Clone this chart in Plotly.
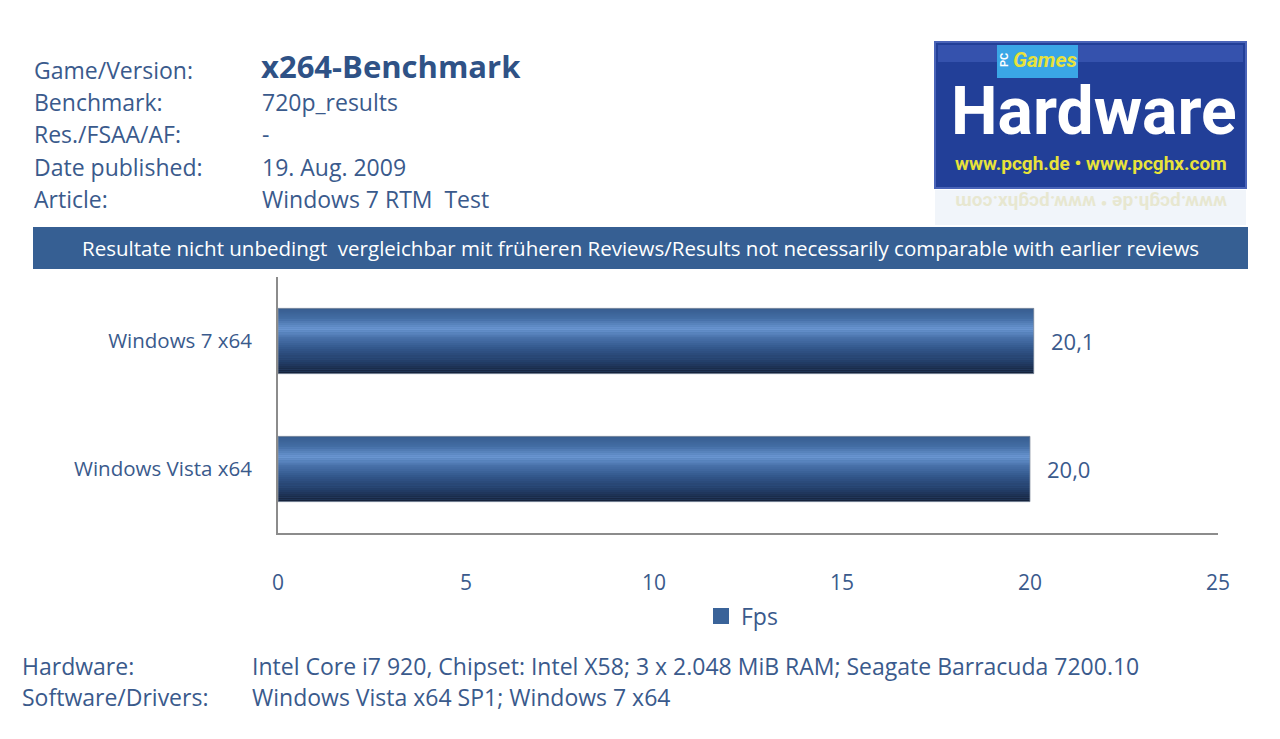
import plotly.graph_objects as go

# ---------------- data ----------------
categories = ["Windows Vista x64", "Windows 7 x64"]   # bottom -> top
fps = [20.0, 20.1]
x_ticks = [0, 5, 10, 15, 20, 25]
series_name = "Fps"

info_labels = ["Game/Version:", "Benchmark:", "Res./FSAA/AF:", "Date published:", "Article:"]
info_values = ["x264-Benchmark", "720p_results", "-", "19. Aug. 2009", "Windows 7 RTM  Test"]
footer_labels = ["Hardware:", "Software/Drivers:"]
footer_values = ["Intel Core i7 920, Chipset: Intel X58; 3 x 2.048 MiB RAM; Seagate Barracuda 7200.10",
                 "Windows Vista x64 SP1; Windows 7 x64"]
banner_text = "Resultate nicht unbedingt  vergleichbar mit früheren Reviews/Results not necessarily comparable with earlier reviews"

# ---------------- style ----------------
W, H = 1280, 739
FONT = "Open Sans"
LOGO_FONT = "Roboto, Arial, sans-serif"
TXT = "#3a5a8c"
BAR_COLOR = "#3a6399"


def px(x):
    return x / W


def py(y):
    return 1 - y / H


BAR_W = 0.51
N_STRIPES = 32
stops = [(0.0, (55, 92, 142)), (0.14, (66, 108, 162)), (0.32, (108, 152, 212)),
         (0.45, (72, 114, 170)), (0.62, (50, 86, 138)), (0.82, (34, 60, 102)), (1.0, (20, 32, 55))]


def grad(t):
    for (a, ca), (b, cb) in zip(stops[:-1], stops[1:]):
        if a <= t <= b:
            f = (t - a) / (b - a)
            c = [round(ca[k] + (cb[k] - ca[k]) * f) for k in range(3)]
            return f"rgb({c[0]},{c[1]},{c[2]})"
    return "rgb(20,32,55)"


fig = go.Figure()

# base bar
fig.add_trace(go.Bar(y=categories, x=fps, orientation="h", width=BAR_W, name=series_name,
                     marker=dict(color=BAR_COLOR, line=dict(width=0)), hoverinfo="x+y",
                     showlegend=False))

dw = BAR_W / N_STRIPES
for i in range(N_STRIPES):
    t = (i + 0.5) / N_STRIPES
    fig.add_trace(go.Bar(y=categories, x=fps, orientation="h",
                         offset=BAR_W / 2 - (i + 1) * dw, width=dw * 1.08,
                         marker=dict(color=grad(t), line=dict(width=0)),
                         showlegend=False, hoverinfo="skip"))

# outline
fig.add_trace(go.Bar(y=categories, x=fps, orientation="h", width=BAR_W,
                     marker=dict(color="rgba(0,0,0,0)", line=dict(color="rgba(140,150,165,0.8)", width=1)),
                     showlegend=False, hoverinfo="skip"))

# legend entry for the series
fig.add_trace(go.Scatter(x=[None], y=[None], mode="markers", name=series_name,
                         marker=dict(symbol="square", size=18, color=BAR_COLOR), hoverinfo="skip"))

annotations = []
for c, v in zip(categories, fps):
    annotations.append(dict(x=v, y=c, xref="x", yref="y", text=f"{v:.1f}".replace(".", ","),
                            showarrow=False, xanchor="left", xshift=15,
                            font=dict(family=FONT, size=22, color=TXT)))

# info block
row_y = [70, 102, 134, 167, 199]
for k, (lab, val, y) in enumerate(zip(info_labels, info_values, row_y)):
    annotations.append(dict(x=px(32), y=py(y), xref="paper", yref="paper", text=lab, showarrow=False,
                            xanchor="left", yanchor="middle", font=dict(family=FONT, size=23, color=TXT)))
    if k == 0:
        annotations.append(dict(x=px(259), y=py(y - 4), xref="paper", yref="paper", text=f"<b>{val}</b>",
                                showarrow=False, xanchor="left", yanchor="middle",
                                font=dict(family=FONT, size=31, color="#2f5286")))
    else:
        annotations.append(dict(x=px(260), y=py(y), xref="paper", yref="paper", text=val, showarrow=False,
                                xanchor="left", yanchor="middle", font=dict(family=FONT, size=23, color=TXT)))

# footer
for lab, val, y in zip(footer_labels, footer_values, [666, 697]):
    annotations.append(dict(x=px(20), y=py(y), xref="paper", yref="paper", text=lab, showarrow=False,
                            xanchor="left", yanchor="middle", font=dict(family=FONT, size=23, color=TXT)))
    annotations.append(dict(x=px(250), y=py(y), xref="paper", yref="paper", text=val, showarrow=False,
                            xanchor="left", yanchor="middle", font=dict(family=FONT, size=23, color=TXT)))

# banner
shapes = [dict(type="rect", xref="paper", yref="paper", x0=px(33), x1=px(1248), y0=py(269), y1=py(227),
               fillcolor="#365f93", line=dict(width=0), layer="below")]
annotations.append(dict(x=px(640), y=py(248), xref="paper", yref="paper", text=banner_text, showarrow=False,
                        xanchor="center", yanchor="middle", font=dict(family=FONT, size=20.5, color="white")))

# logo
shapes += [
    dict(type="rect", xref="paper", yref="paper", x0=px(935), x1=px(1246), y0=py(188), y1=py(42),
         fillcolor="#223f98", line=dict(color="#4a64b8", width=2), layer="above"),
    dict(type="rect", xref="paper", yref="paper", x0=px(938), x1=px(1243), y0=py(62), y1=py(45),
         fillcolor="#3552ad", line=dict(width=0), layer="above"),
    dict(type="rect", xref="paper", yref="paper", x0=px(997), x1=px(1078), y0=py(78), y1=py(45),
         fillcolor="#3aa6e6", line=dict(width=0), layer="above"),
    dict(type="rect", xref="paper", yref="paper", x0=px(935), x1=px(1246), y0=py(225), y1=py(190),
         fillcolor="rgba(225,232,245,0.45)", line=dict(width=0), layer="below"),
]
annotations += [
    dict(x=px(1094), y=py(112), xref="paper", yref="paper", text="<b>Hardware</b>", showarrow=False,
         xanchor="center", yanchor="middle",
         font=dict(family=LOGO_FONT, size=66, color="white")),
    dict(x=px(1045), y=py(60), xref="paper", yref="paper", text="<b><i>Games</i></b>", showarrow=False,
         xanchor="center", yanchor="middle", font=dict(family=LOGO_FONT, size=21, color="#e8e23a")),
    dict(x=px(1004), y=py(60), xref="paper", yref="paper", text="<b>PC</b>", showarrow=False, textangle=-90,
         xanchor="center", yanchor="middle", font=dict(family=LOGO_FONT, size=11, color="white")),
    dict(x=px(1091), y=py(163), xref="paper", yref="paper", text="<b>www.pcgh.de • www.pcghx.com</b>",
         showarrow=False, xanchor="center", yanchor="middle",
         font=dict(family=LOGO_FONT, size=19, color="#e8e23a")),
    dict(x=px(1091), y=py(203), xref="paper", yref="paper", text="<b>www.pcgh.de • www.pcghx.com</b>",
         showarrow=False, xanchor="center", yanchor="middle", textangle=180, opacity=0.22,
         font=dict(family=LOGO_FONT, size=19, color="#c8b840")),
]

fig.update_layout(
    width=W, height=H, barmode="overlay", bargap=0.49,
    paper_bgcolor="white", plot_bgcolor="white",
    margin=dict(l=0, r=0, t=0, b=0),
    font=dict(family=FONT, color=TXT),
    shapes=shapes, annotations=annotations,
    showlegend=True,
    legend=dict(orientation="h", x=px(742), y=py(616), xanchor="center", yanchor="middle",
                font=dict(family=FONT, size=23, color=TXT), bgcolor="rgba(0,0,0,0)"),
    xaxis=dict(domain=[px(278), px(1218)], range=[0, 25], tickvals=x_ticks,
               ticktext=[str(t) for t in x_ticks], showgrid=False, zeroline=False,
               showline=True, linecolor="#8c8c8c", linewidth=2, ticks="",
               tickfont=dict(family=FONT, size=21, color=TXT), ticklabelstandoff=30, automargin=False),
    yaxis=dict(domain=[py(533), py(277)], type="category", categoryorder="array", categoryarray=categories,
               showgrid=False, zeroline=False, showline=True, linecolor="#8c8c8c", linewidth=2, ticks="",
               tickfont=dict(family=FONT, size=20.5, color=TXT), ticklabelstandoff=20, automargin=False),
)

fig.write_html("out.html")
